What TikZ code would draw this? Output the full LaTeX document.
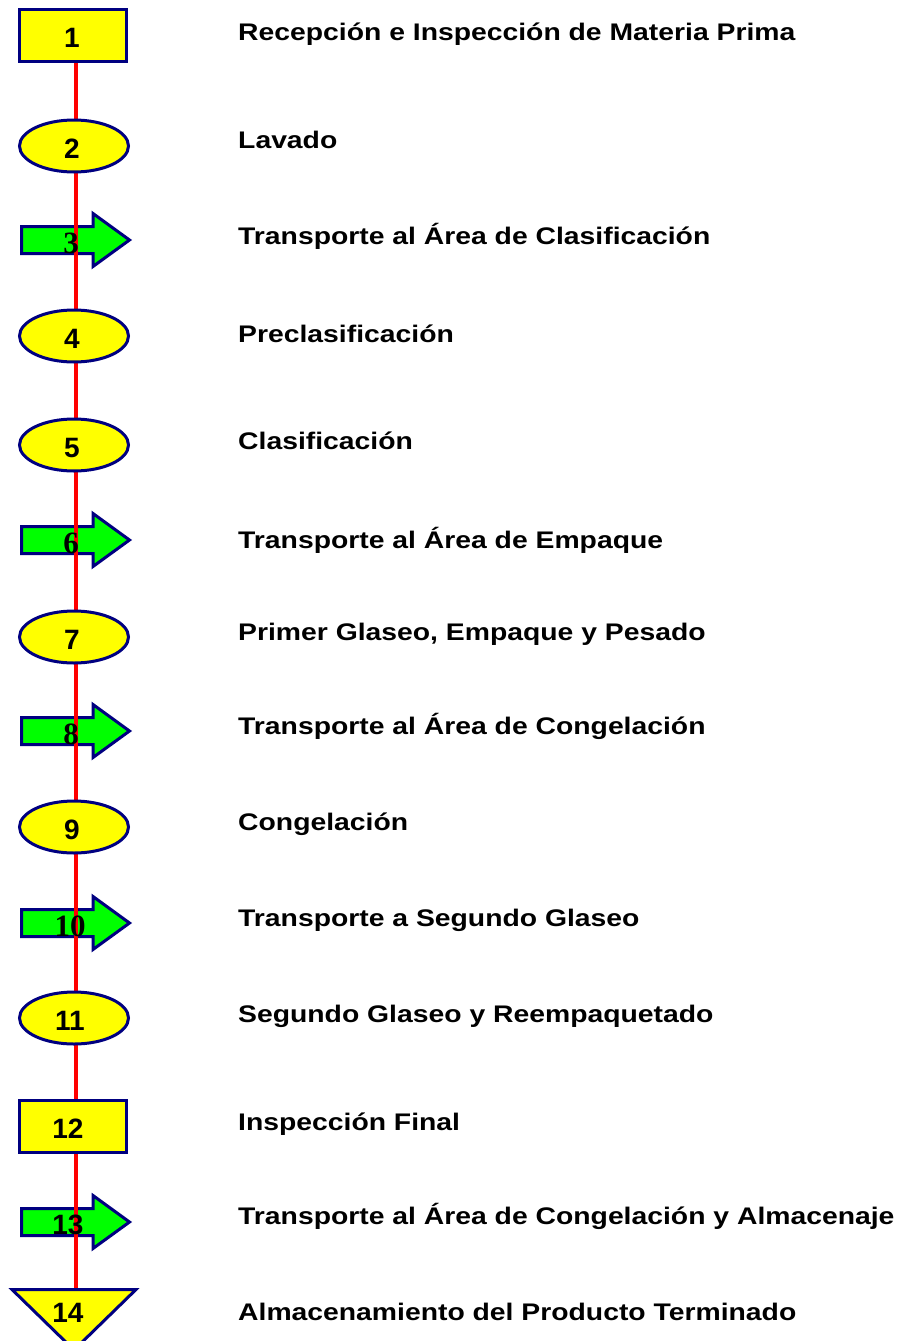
\documentclass[tikz,border=0pt]{standalone}
\usepackage{fontspec}
\setmainfont{Liberation Sans}
\newfontfamily\numserif{Liberation Serif}
\newfontfamily\etiquetafont[FakeStretch=1.18]{Liberation Sans}
\usetikzlibrary{shapes.geometric,backgrounds}
\definecolor{navyline}{HTML}{000080}
\definecolor{pasoamarillo}{HTML}{FFFF00}
\definecolor{pasoverde}{HTML}{00FF00}
\definecolor{lineared}{HTML}{FF0000}
\tikzset{
  operacion/.style={ellipse, draw=navyline, line width=3pt, fill=pasoamarillo, minimum width=109pt, minimum height=52pt, inner sep=0pt},
  inspeccion/.style={rectangle, draw=navyline, line width=3pt, fill=pasoamarillo, minimum width=107pt, minimum height=52pt, inner sep=0pt},
  numero/.style={font=\fontsize{28}{28}\selectfont\bfseries, inner sep=0pt},
  numtransp/.style={font=\numserif\fontsize{31}{31}\selectfont\bfseries, inner sep=0pt},
  etiqueta/.style={anchor=base west, font=\etiquetafont\fontsize{24}{28}\selectfont\bfseries, inner sep=0pt},
  flujo/.style={draw=lineared, line width=4pt},
  transporte/.pic={\draw[navyline, line width=3pt, fill=pasoverde, line join=miter] (-54.5,-13.5) -- (17,-13.5) -- (17,-26.5) -- (53.5,0) -- (17,26.5) -- (17,13.5) -- (-54.5,13.5) -- cycle;}
}
\begin{document}
\begin{tikzpicture}[x=1pt, y=-1pt]
  \useasboundingbox (0,0) rectangle (904,1341);
  % simbolos del diagrama
  \node[inspeccion] (s1) at (73,35) {};
  \node[operacion] (s2) at (74,146) {};
  \node[operacion] (s4) at (74,336) {};
  \node[operacion] (s5) at (74,445) {};
  \node[operacion] (s7) at (74,637) {};
  \node[operacion] (s9) at (74,827) {};
  \node[operacion] (s11) at (74,1018) {};
  \node[inspeccion] (s12) at (73,1126) {};
  \coordinate (s14) at (76,1289.5);
  \draw[navyline, line width=3pt, fill=pasoamarillo] (12,1289.5) -- (136,1289.5) -- (74,1350) -- cycle;

  \begin{scope}[on background layer]
    \pic at (76,240) {transporte};
    \pic at (76,540) {transporte};
    \pic at (76,731) {transporte};
    \pic at (76,923) {transporte};
    \pic at (76,1222) {transporte};
    \draw[flujo] (s1.south -| s14) -- (s14);
  \end{scope}

  % numeros
  \node[numero] (n1) at (72,38) {1};
  \node[numero] (n2) at (72,149) {2};
  \node[numtransp] (n3) at (71,243) {3};
  \node[numero] (n4) at (72,339) {4};
  \node[numero] (n5) at (72,448) {5};
  \node[numtransp] (n6) at (71,543) {6};
  \node[numero] (n7) at (72,640) {7};
  \node[numtransp] (n8) at (71,734) {8};
  \node[numero] (n9) at (72,830) {9};
  \node[numtransp] (n10) at (70,926) {10};
  \node[numero] (n11) at (70,1021) {11};
  \node[numero] (n12) at (68,1129) {12};
  \node[numero] (n13) at (68,1225) {13};
  \node[numero] (n14) at (68,1313) {14};

  % etiquetas
  \node[etiqueta] (e1) at (238,40) {Recepción e Inspección de Materia Prima};
  \node[etiqueta] (e2) at (238,148) {Lavado};
  \node[etiqueta] (e3) at (238,244) {Transporte al Área de Clasificación};
  \node[etiqueta] (e4) at (238,342) {Preclasificación};
  \node[etiqueta] (e5) at (238,449) {Clasificación};
  \node[etiqueta] (e6) at (238,548) {Transporte al Área de Empaque};
  \node[etiqueta] (e7) at (238,640) {Primer Glaseo, Empaque y Pesado};
  \node[etiqueta] (e8) at (238,734) {Transporte al Área de Congelación};
  \node[etiqueta] (e9) at (238,830) {Congelación};
  \node[etiqueta] (e10) at (238,926) {Transporte a Segundo Glaseo};
  \node[etiqueta] (e11) at (238,1022) {Segundo Glaseo y Reempaquetado};
  \node[etiqueta] (e12) at (238,1130) {Inspección Final};
  \node[etiqueta] (e13) at (238,1224) {Transporte al Área de Congelación y Almacenaje};
  \node[etiqueta] (e14) at (238,1320) {Almacenamiento del Producto Terminado};
\end{tikzpicture}
\end{document}
